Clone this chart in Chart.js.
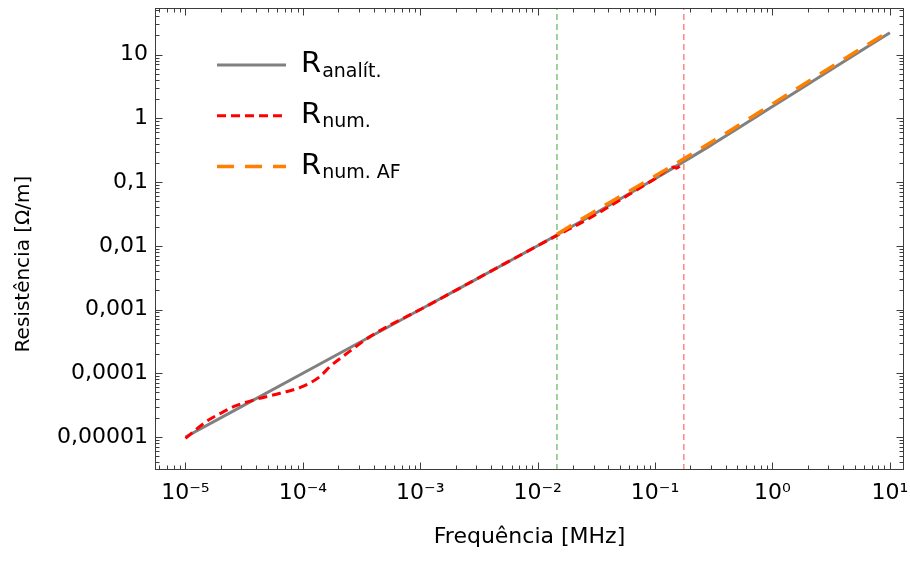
<!DOCTYPE html>
<html>
<head>
<meta charset="utf-8">
<script src="https://cdn.jsdelivr.net/npm/chart.js@4.4.1/dist/chart.umd.min.js"></script>
<style>
html,body{margin:0;padding:0;background:#fff;}
#wrap{width:910px;height:564px;}
</style>
</head>
<body>
<div id="wrap"><canvas id="c" width="910" height="564"></canvas></div>
<script>
// ---- data ----
const freqAnalytic = [1e-5, 1e-4, 1e-3, 1e-2, 3e-2, 0.1, 0.3, 1, 3, 10];
const rAnalytic    = [1e-5, 1e-4, 1e-3, 0.01, 0.0312, 0.113, 0.38, 1.53, 5.5, 22];

const freqNum = [1e-5, 1.5e-5, 2e-5, 2.7e-5, 4e-5, 6.4e-5, 1e-4, 1.4e-4, 1.7e-4, 2.5e-4, 3.7e-4, 5e-4, 7e-4, 1e-3, 3e-3, 1e-2, 0.0146, 0.0288, 0.05, 0.1, 0.145, 0.152, 0.173];
const rNum    = [0.95e-5, 1.74e-5, 2.36e-5, 3.1e-5, 3.9e-5, 4.85e-5, 6.2e-5, 8.9e-5, 1.27e-4, 2.2e-4, 3.72e-4, 5.15e-4, 7.15e-4, 1e-3, 3e-3, 0.01, 0.0145, 0.0283, 0.052, 0.113, 0.172, 0.165, 0.2];

const freqAF = [0.0146, 0.03, 0.1, 0.3, 1, 3, 10];
const rAF    = [0.0152, 0.034, 0.124, 0.42, 1.68, 6.0, 23.5];

const markerFreqs = [0.0146, 0.176];

const xTickValues = [1e-5, 1e-4, 1e-3, 1e-2, 1e-1, 1, 10];
const xTickLabels = ['10⁻⁵', '10⁻⁴', '10⁻³', '10⁻²', '10⁻¹', '10⁰', '10¹'];
const yTickValues = [1e-5, 1e-4, 1e-3, 1e-2, 1e-1, 1, 10];
const yTickLabels = ['0,00001', '0,0001', '0,001', '0,01', '0,1', '1', '10'];

const xRange = [5.5e-6, 13.2];
const yRange = [3.03e-6, 53.9];

const legendItems = [
  {main: 'R', sub: 'analít.'},
  {main: 'R', sub: 'num.'},
  {main: 'R', sub: 'num. AF'}
];
const xTitle = 'Frequência [MHz]';
const yTitle = 'Resistência [Ω/m]';

// ---- styles ----
const FONT = 'DejaVu Sans';
const styles = [
  {color: '#808080', width: 3, dash: []},
  {color: '#ff0000', width: 3, dash: [9, 5]},
  {color: '#ff8000', width: 3.5, dash: [17, 11]}
];

const toPts = (xs, ys) => xs.map((x, i) => ({x: x, y: ys[i]}));

const framePlugin = {
  id: 'frame',
  afterDraw(chart) {
    const {ctx, chartArea: a, scales: {x, y}} = chart;
    ctx.save();
    ctx.strokeStyle = '#3c3c3c';
    ctx.lineWidth = 1;
    const L = Math.round(a.left) + 0.5, R = Math.round(a.right) - 0.5;
    const T = Math.round(a.top) + 0.5, B = Math.round(a.bottom) - 0.5;
    ctx.strokeRect(L, T, R - L, B - T);
    ctx.beginPath();
    for (let k = -7; k <= 2; k++) {
      for (let m = 1; m <= 9; m++) {
        const v = m * Math.pow(10, k);
        const len = m === 1 ? 7 : 4;
        if (v >= xRange[0] && v <= xRange[1]) {
          const px = Math.round(x.getPixelForValue(v)) + 0.5;
          ctx.moveTo(px, B); ctx.lineTo(px, B - len);
          ctx.moveTo(px, T); ctx.lineTo(px, T + len);
        }
        if (v >= yRange[0] && v <= yRange[1]) {
          const py = Math.round(y.getPixelForValue(v)) + 0.5;
          ctx.moveTo(L, py); ctx.lineTo(L + len, py);
          ctx.moveTo(R, py); ctx.lineTo(R - len, py);
        }
      }
    }
    ctx.stroke();
    ctx.restore();
  }
};

const legendPlugin = {
  id: 'customLegend',
  afterDraw(chart) {
    const {ctx, chartArea: a} = chart;
    ctx.save();
    const rowGap = 50.8;
    legendItems.forEach((it, i) => {
      const st = styles[i];
      const ly = a.top + 57 + i * rowGap;
      ctx.beginPath();
      ctx.strokeStyle = st.color;
      ctx.lineWidth = st.width;
      ctx.setLineDash(st.dash);
      ctx.moveTo(a.left + 62, ly);
      ctx.lineTo(a.left + 131, ly);
      ctx.stroke();
      ctx.setLineDash([]);
      const by = a.top + 64 + i * rowGap;
      ctx.fillStyle = '#000';
      ctx.textBaseline = 'alphabetic';
      ctx.textAlign = 'left';
      ctx.font = '29px "' + FONT + '"';
      const x0 = a.left + 146;
      ctx.fillText(it.main, x0, by);
      const w = ctx.measureText(it.main).width;
      ctx.font = '19px "' + FONT + '"';
      ctx.fillText(it.sub, x0 + w + 1, by + 4.5);
    });
    ctx.restore();
  }
};

const yTitlePlugin = {
  id: 'yTitle',
  afterDraw(chart) {
    const {ctx, chartArea: a} = chart;
    ctx.save();
    ctx.translate(24, (a.top + a.bottom) / 2 + 25);
    ctx.rotate(-Math.PI / 2);
    ctx.font = '20px "' + FONT + '"';
    ctx.fillStyle = '#000';
    ctx.textAlign = 'center';
    ctx.textBaseline = 'middle';
    ctx.fillText(yTitle, 0, 0);
    ctx.restore();
  }
};

const lineDs = (label, xs, ys, st, order) => ({
  label: label,
  data: toPts(xs, ys),
  showLine: true,
  borderColor: st.color,
  borderWidth: st.width,
  borderDash: st.dash,
  pointRadius: 0,
  fill: false,
  cubicInterpolationMode: 'monotone',
  order: order
});

const vDs = (f, color, order) => ({
  label: 'marker',
  data: [{x: f, y: yRange[0]}, {x: f, y: yRange[1]}],
  showLine: true,
  borderColor: color,
  borderWidth: 1,
  borderDash: [6, 4],
  pointRadius: 0,
  fill: false,
  order: order
});

new Chart(document.getElementById('c'), {
  type: 'scatter',
  data: {
    datasets: [
      lineDs('R num. AF', freqAF, rAF, styles[2], 0),
      lineDs('R num.', freqNum, rNum, styles[1], 1),
      lineDs('R analít.', freqAnalytic, rAnalytic, styles[0], 2),
      vDs(markerFreqs[0], '#3fa83f', 3),
      vDs(markerFreqs[1], '#ff4a4a', 4)
    ]
  },
  options: {
    responsive: false,
    animation: false,
    devicePixelRatio: 1,
    layout: {padding: {top: 8, right: 6, left: 0, bottom: 0}},
    plugins: {legend: {display: false}, tooltip: {enabled: false}},
    scales: {
      x: {
        type: 'logarithmic',
        position: 'bottom',
        min: xRange[0], max: xRange[1],
        grid: {display: false, drawTicks: false},
        border: {display: false},
        afterBuildTicks: s => { s.ticks = xTickValues.map(v => ({value: v, major: true})); },
        ticks: {
          autoSkip: false, maxRotation: 0, padding: 10, color: '#000',
          font: {family: FONT, size: 22},
          callback: (v, i) => xTickLabels[i]
        },
        title: {display: true, text: xTitle, color: '#000', font: {family: FONT, size: 22}, padding: {top: 0, bottom: 14}},
        afterFit: s => { s.height = 94; s.paddingLeft = 0; s.paddingRight = 0; }
      },
      y: {
        type: 'logarithmic',
        position: 'left',
        min: yRange[0], max: yRange[1],
        grid: {display: false, drawTicks: false},
        border: {display: false},
        afterBuildTicks: s => { s.ticks = yTickValues.map(v => ({value: v, major: true})); },
        ticks: {
          autoSkip: false, padding: 7, color: '#000',
          font: {family: FONT, size: 22},
          callback: (v, i) => yTickLabels[i]
        },
        afterFit: s => { s.width = 155; s.paddingTop = 0; s.paddingBottom = 0; }
      }
    }
  },
  plugins: [framePlugin, legendPlugin, yTitlePlugin]
});
</script>
</body>
</html>
